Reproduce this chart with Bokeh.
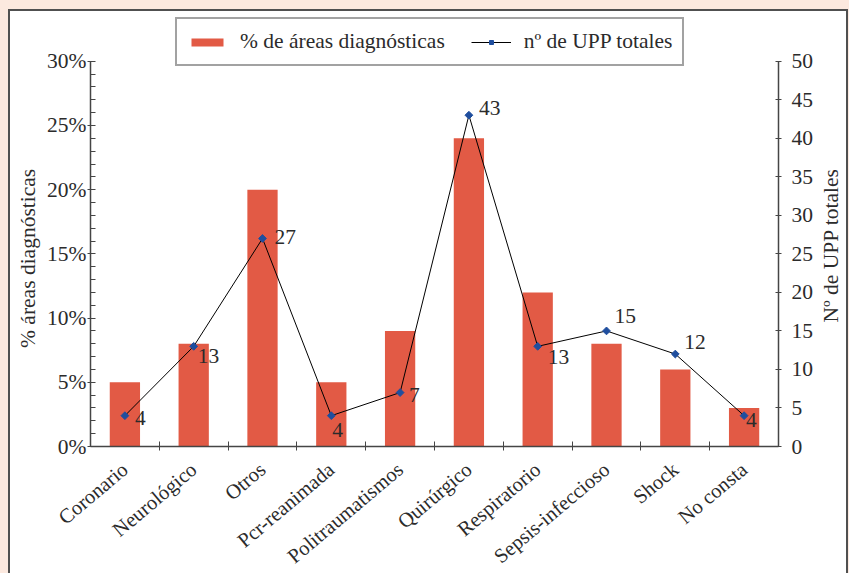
import math
from bokeh.plotting import figure
from bokeh.layouts import row
from bokeh.models import (Range1d, LinearAxis, FixedTicker, NumeralTickFormatter,
                          Legend, LegendItem, ColumnDataSource)
from bokeh.core.properties import value
from bokeh.embed import file_html
from bokeh.resources import INLINE

# ---- data ----
categories = ["Coronario", "Neurológico", "Otros", "Pcr-reanimada", "Politraumatismos",
              "Quirúrgico", "Respiratorio", "Sepsis-infeccioso", "Shock", "No consta"]
pct_areas = [0.05, 0.08, 0.20, 0.05, 0.09, 0.24, 0.12, 0.08, 0.06, 0.03]
upp_totales = [4, 13, 27, 4, 7, 43, 13, 15, 12, 4]
left_ticks = [0, 0.05, 0.10, 0.15, 0.20, 0.25, 0.30]
left_minor = [0.01, 0.02, 0.03, 0.04, 0.06, 0.07, 0.08, 0.09, 0.11, 0.12, 0.13, 0.14,
              0.16, 0.17, 0.18, 0.19, 0.21, 0.22, 0.23, 0.24, 0.26, 0.27, 0.28, 0.29]
right_ticks = [0, 5, 10, 15, 20, 25, 30, 35, 40, 45, 50]
left_title = "% áreas diagnósticas"
right_title = "Nº de UPP totales"
legend_bar = "% de áreas diagnósticas"
legend_line = "nº de UPP totales"

# label offsets (screen px) for the value labels
label_dx = [10, 4, 12, 1, 9, 10, 10, 8, 9, 2]
label_dy = [2, 10, -1, 14, 2, -7, 11, -15, -12, 4]

FONT = "Liberation Serif"
TXT = "#2b2b2b"
AX = "#454545"
BAR = "#E25A45"
MARK = "#1F4E9E"
FS = "21.5px"

# ---- geometry (px) ----
HH = 567            # common height of the three canvases
TOP, BOTTOM = 3, 130
FRAME_H = HH - TOP - BOTTOM          # 434
AXIS_H = 387                          # pixel height of the 0..30% / 0..50 axes
ext = FRAME_H / AXIS_H

xpos = list(range(len(categories)))
src = ColumnDataSource(dict(x=xpos, pct=pct_areas, upp=upp_totales,
                            lbl=[str(v) for v in upp_totales], dx=label_dx, dy=label_dy))

p = figure(width=772, height=HH, output_backend="svg", toolbar_location=None,
           x_range=Range1d(-0.5, 9.5), y_range=Range1d(0, 0.3 * ext),
           min_border_left=46, min_border_right=38, min_border_top=TOP, min_border_bottom=BOTTOM,
           outline_line_color=None, background_fill_color="white", border_fill_color="white")
p.xgrid.visible = False
p.ygrid.visible = False
p.extra_y_ranges = {"upp": Range1d(0, 50 * ext)}

# left axis
ya = p.yaxis[0]
ya.ticker = FixedTicker(ticks=left_ticks, minor_ticks=left_minor)
ya.formatter = NumeralTickFormatter(format="0%")
ya.bounds = (0, 0.3)
ya.major_tick_in = 5
ya.major_tick_out = 3
ya.minor_tick_in = 5
ya.minor_tick_out = 0
ya.major_label_standoff = 1

# bottom axis
xa = p.xaxis[0]
xa.ticker = FixedTicker(ticks=xpos, minor_ticks=[0.5, 1.5, 2.5, 3.5, 4.5, 5.5, 6.5, 7.5, 8.5])
xa.major_label_overrides = {i: c for i, c in zip(xpos, categories)}
xa.major_tick_in = 0
xa.major_tick_out = 0
xa.minor_tick_in = 5
xa.minor_tick_out = 4
xa.major_label_orientation = 0.70
xa.major_label_standoff = 16

# right axis
ra = LinearAxis(y_range_name="upp", ticker=FixedTicker(ticks=right_ticks), bounds=(0, 50))
ra.major_tick_in = 3
ra.major_tick_out = 3
ra.major_label_standoff = 10
p.add_layout(ra, "right")

for ax in (xa, ya, ra):
    ax.axis_line_color = AX
    ax.axis_line_width = 1.5
    ax.major_tick_line_color = AX
    ax.minor_tick_line_color = AX
    ax.major_label_text_font = FONT
    ax.major_label_text_font_size = FS
    ax.major_label_text_color = TXT
xa.major_label_text_font_size = "20.5px"

bars = p.vbar(x="x", top="pct", width=0.44, source=src, fill_color=BAR, line_color=None)
line = p.line(x="x", y="upp", source=src, y_range_name="upp", line_color="black", line_width=1)
marks = p.scatter(x="x", y="upp", source=src, y_range_name="upp", marker="square",
                  angle=math.pi / 4, size=5.5, fill_color=MARK, line_color=MARK)
p.text(x="x", y="upp", text="lbl", source=src, y_range_name="upp", x_offset="dx", y_offset="dy",
       text_font=value(FONT), text_font_size=FS, text_color=TXT,
       text_align="left", text_baseline="middle")

legend = Legend(items=[LegendItem(label=legend_bar, renderers=[bars]),
                       LegendItem(label=legend_line, renderers=[line, marks])],
                orientation="horizontal", location=(85, 380),
                border_line_color=AX, border_line_width=2,
                glyph_width=40, glyph_height=10, label_standoff=13, spacing=26,
                padding=10, margin=0,
                label_text_font=FONT, label_text_font_size=FS, label_text_color=TXT)
p.add_layout(legend)


def title_strip(width, text, tx, ty):
    """Narrow canvas (frame aligned with the main plot's frame) carrying a
    vertical axis title that reads bottom-to-top."""
    f = figure(width=width, height=HH, output_backend="svg", toolbar_location=None,
               x_range=Range1d(0, width), y_range=Range1d(0, FRAME_H),
               x_axis_location=None, y_axis_location=None,
               min_border_left=0, min_border_right=0,
               min_border_top=TOP, min_border_bottom=BOTTOM,
               outline_line_color=None, background_fill_color="white",
               border_fill_color="white")
    f.xgrid.visible = False
    f.ygrid.visible = False
    f.text(x=[tx], y=[ty], text=[text], angle=math.pi / 2,
           text_font=value(FONT), text_font_size="21.5px", text_color=TXT,
           text_align="center", text_baseline="middle")
    return f


# title centres: 245 px / 232 px below the frame top
pl = title_strip(34, left_title, 17, FRAME_H - 245)
pr = title_strip(30, right_title, 14, FRAME_H - 232)

layout = row(pl, p, pr, spacing=0,
             styles={"border-left": "2px solid #505050", "border-top": "2px solid #505050",
                     "border-right": "2px solid #505050", "margin-left": "8px",
                     "margin-top": "9px", "background-color": "white"})

html = file_html(layout, INLINE)
html = html.replace("</head>",
                    "<style>html, body { background-color: #fce9df !important; overflow: hidden; }</style></head>", 1)
open("out.html", "w").write(html)
